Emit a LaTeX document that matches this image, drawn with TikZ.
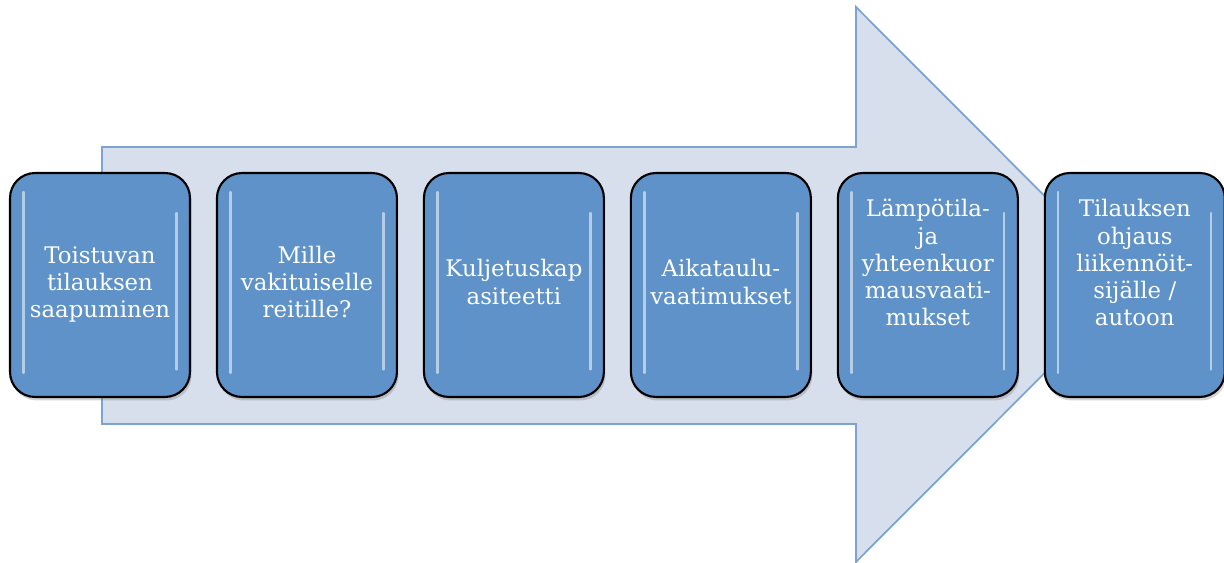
\documentclass[tikz,border=0pt]{standalone}
\usepackage{fontspec}
\setmainfont{DejaVu Serif}
\usetikzlibrary{shadows}

\definecolor{stageblue}{RGB}{94,146,200}
\definecolor{arrowfill}{RGB}{215,223,236}
\definecolor{arrowline}{RGB}{125,163,208}

\tikzstyle{stage} = [rectangle, rounded corners=0.5cm, minimum width=3.6cm, minimum height=4.48cm, text centered, draw=black, line width=1.2pt, fill=stageblue, text=white, font=\fontsize{13}{15.5}\selectfont, drop shadow={opacity=0.35, shadow xshift=0.03cm, shadow yshift=-0.07cm},
  path picture={
    \draw [white, opacity=0.55, line width=1.3pt, line cap=round] ([xshift=0.27cm, yshift=-0.38cm]path picture bounding box.north west) -- ([xshift=0.27cm, yshift=0.48cm]path picture bounding box.south west);
    \draw [white, opacity=0.55, line width=1.3pt, line cap=round] ([xshift=-0.27cm, yshift=-0.8cm]path picture bounding box.north east) -- ([xshift=-0.27cm, yshift=0.55cm]path picture bounding box.south east);
  }]
\tikzstyle{bigarrow} = [draw=arrowline, fill=arrowfill, line width=1pt, line join=miter]

\begin{document}
\begin{tikzpicture}[x=0.02cm, y=-0.02cm, node distance=4.14cm]
  \useasboundingbox (0,0) rectangle (1224,563);
  % the big arrow behind the stages
  \draw [bigarrow] (102,147) -- (856,147) -- (856,7) -- (1133,284.5) -- (856,562) -- (856,424) -- (102,424) -- cycle;

  \node (arrival) [stage] at (100,285) {\begin{tabular}{@{}c@{}} Toistuvan \\ tilauksen \\ saapuminen \end{tabular}};
  \node (route) [stage, right of=arrival] {\begin{tabular}{@{}c@{}} Mille \\ vakituiselle \\ reitille? \end{tabular}};
  \node (capacity) [stage, right of=route] {\begin{tabular}{@{}c@{}} Kuljetuskap \\ asiteetti \end{tabular}};
  \node (schedule) [stage, right of=capacity] {\begin{tabular}{@{}c@{}} Aikataulu- \\ vaatimukset \end{tabular}};
  \node (temperature) [stage, right of=schedule] {\begin{tabular}{@{}c@{}} Lämpötila- \\ ja \\ yhteenkuor \\ mausvaati- \\ mukset \\[0.76cm] \end{tabular}};
  \node (dispatch) [stage, right of=temperature] {\begin{tabular}{@{}c@{}} Tilauksen \\ ohjaus \\ liikennöit- \\ sijälle / \\ autoon \\[0.76cm] \end{tabular}};
\end{tikzpicture}
\end{document}
